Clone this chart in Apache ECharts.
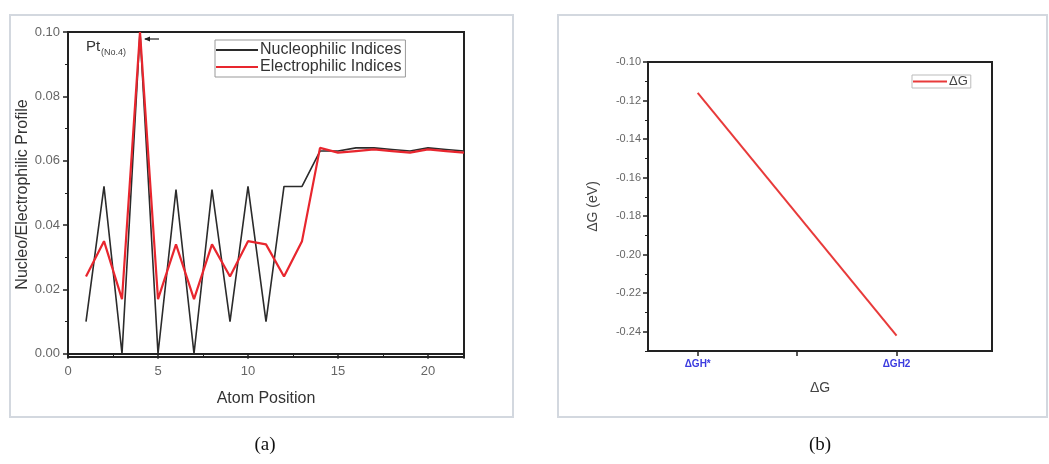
<!DOCTYPE html>
<html>
<head>
<meta charset="utf-8">
<script src="https://cdn.jsdelivr.net/npm/echarts@6/dist/echarts.min.js"></script>
<style>
html,body{margin:0;padding:0;background:#fff;}
#chart{width:1049px;height:464px;}
</style>
</head>
<body>
<div id="chart"></div>
<script>
// ---- data (a) ----
const atomPos = [1,2,3,4,5,6,7,8,9,10,11,12,13,14,15,16,17,18,19,20,21,22];
const nucleophilic = [0.010,0.052,0.000,0.100,0.000,0.051,0.000,0.051,0.010,0.052,0.010,0.052,0.052,0.063,0.063,0.064,0.064,0.0635,0.063,0.064,0.0635,0.063];
const electrophilic = [0.024,0.035,0.017,0.100,0.017,0.034,0.017,0.034,0.024,0.035,0.034,0.024,0.035,0.064,0.0625,0.063,0.0635,0.063,0.0625,0.0635,0.063,0.0625];
const xTicksA = [0,5,10,15,20];
const yTicksA = [0.00,0.02,0.04,0.06,0.08,0.10];
const yMinorA = [0.01,0.03,0.05,0.07,0.09];
// ---- data (b) ----
const gCategories = ['ΔGH*','ΔGH2'];
const gValues = [-0.116,-0.242];
const yTicksB = [-0.24,-0.22,-0.20,-0.18,-0.16,-0.14,-0.12,-0.10];
const yMinorB = [-0.25,-0.23,-0.21,-0.19,-0.17,-0.15,-0.13,-0.11];

const FONT = 'Liberation Sans, Arial, sans-serif';
const AX = '#222';
const chart = echarts.init(document.getElementById('chart'), null, {renderer:'canvas'});

const axisLineStyle = {show:true, lineStyle:{color:AX, width:2}};

const option = {
  backgroundColor:'#fff',
  animation:false,
  grid:[
    {left:68, top:32, right:585, bottom:107, show:true, borderColor:AX, borderWidth:2, containLabel:false},
    {left:648, top:62, right:57, bottom:113, show:true, borderColor:AX, borderWidth:2, containLabel:false}
  ],
  legend:[
    {
      data:['Nucleophilic Indices','Electrophilic Indices'],
      left:215, top:40, orient:'vertical',
      icon:'rect', itemWidth:42, itemHeight:2, itemGap:1,
      padding:[2,4,2,1],
      borderColor:'#999', borderWidth:1,
      textStyle:{fontFamily:FONT, fontSize:16, color:'#333', padding:[0,0,0,-3]}
    },
    {
      data:['ΔG'],
      left:912, top:75, orient:'vertical',
      icon:'rect', itemWidth:34, itemHeight:2,
      padding:[0,3,0,1],
      borderColor:'#bbb', borderWidth:1,
      textStyle:{fontFamily:FONT, fontSize:13, color:'#444', padding:[0,0,0,-3]}
    }
  ],
  xAxis:[
    {
      type:'value', gridIndex:0, min:0, max:22, interval:5,
      name:'Atom Position', nameLocation:'middle', nameGap:34,
      nameTextStyle:{fontFamily:FONT, fontSize:16, color:'#333'},
      axisLine:axisLineStyle,
      axisTick:{show:true, inside:false, length:5, lineStyle:{color:AX, width:1.5}},
      minorTick:{show:true, splitNumber:2, length:3, lineStyle:{color:AX, width:1}},
      axisLabel:{customValues:xTicksA, fontFamily:FONT, fontSize:13, color:'#666', margin:8},
      splitLine:{show:false}
    },
    {
      type:'value', gridIndex:1, min:0.75, max:2.48,
      name:'ΔG', nameLocation:'middle', nameGap:30,
      nameTextStyle:{fontFamily:FONT, fontSize:14, color:'#444'},
      axisLine:axisLineStyle,
      axisTick:{show:true, customValues:[1,1.5,2], length:5, lineStyle:{color:AX, width:1.5}},
      axisLabel:{customValues:[1,2], formatter:v=>gCategories[Math.round(v)-1], fontFamily:FONT, fontSize:10, fontWeight:'bold', color:'#3a3adf', margin:8},
      splitLine:{show:false}
    }
  ],
  yAxis:[
    {
      type:'value', gridIndex:0, min:-0.001, max:0.10,
      name:'Nucleo/Electrophilic Profile', nameLocation:'middle', nameGap:33,
      nameTextStyle:{fontFamily:FONT, fontSize:16, color:'#333'},
      axisLine:axisLineStyle,
      axisTick:{show:true, customValues:yTicksA, length:5, lineStyle:{color:AX, width:1.5}},
      axisLabel:{customValues:yTicksA, formatter:v=>v.toFixed(2), fontFamily:FONT, fontSize:13, color:'#666', margin:8},
      splitLine:{show:false}
    },
    {
      type:'value', gridIndex:0, min:-0.001, max:0.10, position:'left',
      axisLine:{show:false},
      axisTick:{show:true, customValues:yMinorA, length:3, lineStyle:{color:AX, width:1}},
      axisLabel:{show:false},
      splitLine:{show:false}
    },
    {
      type:'value', gridIndex:1, min:-0.25, max:-0.10,
      name:'ΔG (eV)', nameLocation:'middle', nameGap:48,
      nameTextStyle:{fontFamily:FONT, fontSize:14, color:'#444'},
      axisLine:axisLineStyle,
      axisTick:{show:true, customValues:yTicksB, length:5, lineStyle:{color:AX, width:1.5}},
      axisLabel:{customValues:yTicksB, formatter:v=>v.toFixed(2), fontFamily:FONT, fontSize:11, color:'#666', margin:7},
      splitLine:{show:false}
    },
    {
      type:'value', gridIndex:1, min:-0.25, max:-0.10, position:'left',
      axisLine:{show:false},
      axisTick:{show:true, customValues:yMinorB, length:3, lineStyle:{color:AX, width:1}},
      axisLabel:{show:false},
      splitLine:{show:false}
    }
  ],
  series:[
    {
      name:'Nucleophilic Indices', type:'line', xAxisIndex:0, yAxisIndex:0,
      data:atomPos.map((x,i)=>[x,nucleophilic[i]]),
      showSymbol:false, symbol:'none',
      lineStyle:{color:'#2b2b2b', width:1.6},
      itemStyle:{color:'#2b2b2b'}
    },
    {
      name:'Electrophilic Indices', type:'line', xAxisIndex:0, yAxisIndex:0,
      data:atomPos.map((x,i)=>[x,electrophilic[i]]),
      showSymbol:false, symbol:'none',
      lineStyle:{color:'#e8262e', width:2.2},
      itemStyle:{color:'#e8262e'}
    },
    {
      name:'ΔG', type:'line', xAxisIndex:1, yAxisIndex:2,
      data:gValues.map((v,i)=>[i+1,v]),
      showSymbol:false, symbol:'none',
      lineStyle:{color:'#e83a3a', width:2},
      itemStyle:{color:'#e83a3a'}
    }
  ]
};
chart.setOption(option);

// annotation anchored on the Pt peak (atom 4)
const peakIdx = 3;
const pk = chart.convertToPixel({xAxisIndex:0, yAxisIndex:0}, [atomPos[peakIdx], nucleophilic[peakIdx]]);

chart.setOption({
  graphic:[
    {type:'rect', shape:{x:10, y:15, width:503, height:402}, style:{fill:'none', stroke:'#d3d8df', lineWidth:2}, silent:true, z:-1},
    {type:'rect', shape:{x:558, y:15, width:489, height:402}, style:{fill:'none', stroke:'#d3d8df', lineWidth:2}, silent:true, z:-1},
    {type:'text', x:265, y:445, style:{text:'(a)', font:'19px "Liberation Serif", "Times New Roman", serif', fill:'#111', align:'center', verticalAlign:'middle'}},
    {type:'text', x:820, y:445, style:{text:'(b)', font:'19px "Liberation Serif", "Times New Roman", serif', fill:'#111', align:'center', verticalAlign:'middle'}},
    {type:'text', x:pk[0]-54, y:pk[1]+15, style:{text:'Pt', font:'15px ' + FONT, fill:'#333', align:'left', verticalAlign:'middle'}},
    {type:'text', x:pk[0]-39, y:pk[1]+21, style:{text:'(No.4)', font:'9px ' + FONT, fill:'#444', align:'left', verticalAlign:'middle'}},
    {type:'line', shape:{x1:pk[0]+5, y1:pk[1]+7, x2:pk[0]+19, y2:pk[1]+7}, style:{stroke:'#222', lineWidth:1.2}},
    {type:'polygon', shape:{points:[[pk[0]+4,pk[1]+7],[pk[0]+10,pk[1]+4.5],[pk[0]+10,pk[1]+9.5]]}, style:{fill:'#222'}}
  ]
});
</script>
</body>
</html>
